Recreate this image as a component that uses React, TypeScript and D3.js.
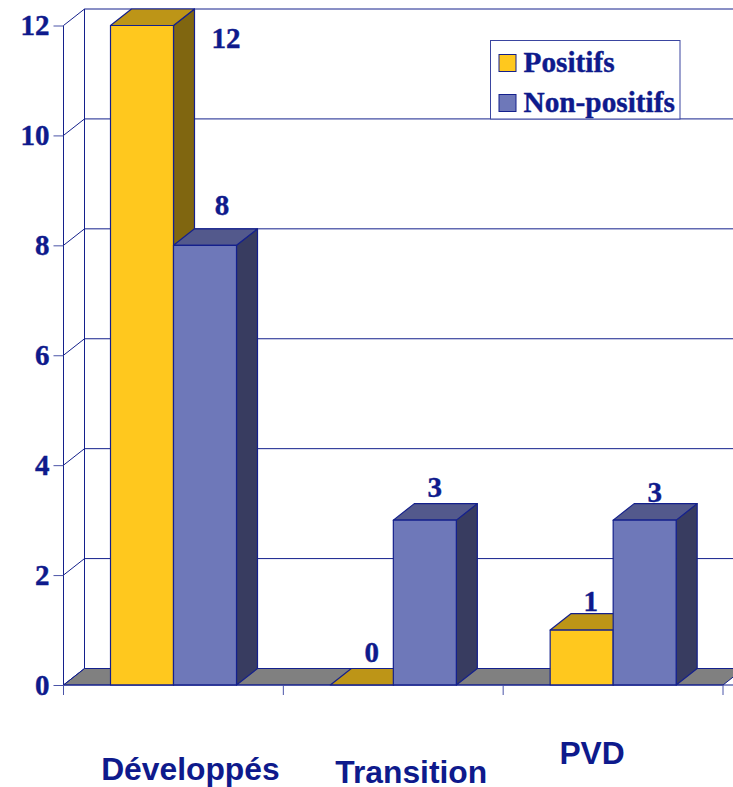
import * as d3 from "d3";
import { useEffect, useRef } from "react";

const categories = ["Développés", "Transition", "PVD"];
const seriesNames = ["Positifs", "Non-positifs"];
const positifs = [12, 0, 1];
const nonPositifs = [8, 3, 3];
const yTicks = [0, 2, 4, 6, 8, 10, 12];

// hand placed in the original, offsets from the top of each bar's front face
const labelOffsets = [
  [[84, 22.5], [17, -30]],
  [[10, -23], [10, -23]],
  [[9, -19], [10, -18]],
];
// offsets from the centre of each category band
const catLabelOffsets = [[17, 95], [18, 98], [-21, 78.5]];

const faceColors: Record<string, string[]> = {
  Positifs: ["#ffc81e", "#bd9517", "#806610"],
  "Non-positifs": ["#6e78b9", "#53598c", "#383c60"],
};
const navy = "#14208c";
const textColor = "#0e1a8c";
const serif = "'Liberation Serif', serif";
const sans = "'Liberation Sans', sans-serif";

function draw(node: SVGSVGElement) {
  const width = 733;
  const height = 787;
  const depthX = 21;
  const depthY = -16.5;

  const x = d3.scaleBand().domain(categories).range([63.5, 723]);
  const inner = d3.scaleBand().domain(seriesNames).range([47, 173]);
  const y = d3.scaleLinear().domain([0, 12]).range([685, 25.5]);
  const poly = d3.line();

  const svg = d3.select(node);
  svg.selectAll("*").remove();

  // floor
  svg.append("path")
    .attr("d", poly([
      [x.range()[0], y(0)],
      [x.range()[0] + depthX, y(0) + depthY],
      [x.range()[1] + depthX, y(0) + depthY],
      [x.range()[1], y(0)],
    ]) + "Z")
    .attr("fill", "#808080")
    .attr("stroke", navy);

  // walls
  const grid = svg.append("g").attr("stroke", navy).attr("fill", "none");
  yTicks.forEach((t) => {
    const gy = y(t);
    grid.append("line")
      .attr("x1", x.range()[0]).attr("y1", gy)
      .attr("x2", x.range()[0] + depthX).attr("y2", gy + depthY);
    if (t > 0) {
      grid.append("line")
        .attr("x1", x.range()[0] + depthX).attr("y1", gy + depthY)
        .attr("x2", width).attr("y2", gy + depthY);
    }
  });
  grid.append("line")
    .attr("x1", x.range()[0] + depthX).attr("y1", y(12) + depthY)
    .attr("x2", x.range()[0] + depthX).attr("y2", y(0) + depthY);

  // bars
  const bars = svg.append("g").attr("stroke", navy).attr("stroke-width", 1.2).attr("stroke-linejoin", "round");
  categories.forEach((c, i) => {
    [positifs[i], nonPositifs[i]].forEach((v, s) => {
      const name = seriesNames[s];
      const [front, top, side] = faceColors[name];
      const x0 = (x(c) ?? 0) + (inner(name) ?? 0);
      const x1 = x0 + inner.bandwidth();
      const yTop = y(v);
      const yBase = y(0);
      bars.append("path")
        .attr("d", poly([[x1, yTop], [x1 + depthX, yTop + depthY], [x1 + depthX, yBase + depthY], [x1, yBase]]) + "Z")
        .attr("fill", side);
      bars.append("path")
        .attr("d", poly([[x0, yTop], [x0 + depthX, yTop + depthY], [x1 + depthX, yTop + depthY], [x1, yTop]]) + "Z")
        .attr("fill", top);
      if (v > 0) {
        bars.append("rect")
          .attr("x", x0).attr("y", yTop)
          .attr("width", inner.bandwidth()).attr("height", yBase - yTop)
          .attr("fill", front);
      }
    });
  });

  // y axis
  const yAxis = svg.append("g")
    .attr("transform", `translate(${x.range()[0]},0)`)
    .call(d3.axisLeft(y).tickValues(yTicks).tickFormat(d3.format("d")).tickSize(10).tickPadding(4));
  yAxis.selectAll("line").attr("stroke", "#4a54a8");
  yAxis.select(".domain").attr("stroke", navy).attr("d", `M0,${y(12)}V695`);
  yAxis.selectAll("text")
    .attr("fill", textColor)
    .attr("stroke", textColor)
    .attr("stroke-width", 0.4)
    .style("font", `bold 29px ${serif}`);

  // category axis
  const cats = svg.append("g").attr("stroke", navy);
  cats.append("line")
    .attr("x1", x.range()[0]).attr("x2", width)
    .attr("y1", y(0)).attr("y2", y(0))
    .attr("stroke-width", 1.2);
  [...categories.map((c) => x(c) ?? 0), x.range()[1]].forEach((tx) => {
    cats.append("line")
      .attr("x1", tx).attr("x2", tx)
      .attr("y1", y(0)).attr("y2", 695)
      .attr("stroke", "#4a54a8");
  });

  // category labels
  svg.append("g")
    .attr("fill", textColor)
    .attr("text-anchor", "middle")
    .style("font", `bold 31.8px ${sans}`)
    .selectAll("text")
    .data(categories)
    .join("text")
    .attr("x", (d, i) => (x(d) ?? 0) + x.bandwidth() / 2 + catLabelOffsets[i][0])
    .attr("y", (d, i) => y(0) + catLabelOffsets[i][1])
    .text((d) => d);

  // value labels
  const labels = svg.append("g")
    .attr("fill", textColor)
    .attr("stroke", textColor)
    .attr("stroke-width", 0.4)
    .attr("text-anchor", "middle")
    .style("font", `bold 29px ${serif}`);
  categories.forEach((c, i) => {
    [positifs[i], nonPositifs[i]].forEach((v, s) => {
      const name = seriesNames[s];
      labels.append("text")
        .attr("x", (x(c) ?? 0) + (inner(name) ?? 0) + inner.bandwidth() / 2 + labelOffsets[i][s][0])
        .attr("y", y(v) + labelOffsets[i][s][1])
        .text(v);
    });
  });

  // legend
  const legend = svg.append("g").attr("transform", "translate(490.5,40.5)");
  legend.append("rect")
    .attr("width", 189.5).attr("height", 78.5)
    .attr("fill", "#fff").attr("stroke", "#3a45a0");
  seriesNames.forEach((name, i) => {
    legend.append("rect")
      .attr("x", 8.5).attr("y", 14 + i * 40)
      .attr("width", 17).attr("height", 17)
      .attr("fill", faceColors[name][0])
      .attr("stroke", navy);
    legend.append("text")
      .attr("x", 33).attr("y", 31.5 + i * 40)
      .attr("fill", textColor)
      .attr("stroke", textColor)
      .attr("stroke-width", 0.4)
      .style("font", `bold 29.3px ${serif}`)
      .text(name);
  });
  svg.attr("width", width).attr("height", height);
}

export default function App() {
  const ref = useRef<SVGSVGElement | null>(null);
  useEffect(() => {
    if (ref.current) draw(ref.current);
  }, []);
  return (
    <svg
      ref={ref}
      width={733}
      height={787}
      style={{ position: "absolute", left: 0, top: 0, display: "block", background: "#fff" }}
    />
  );
}
